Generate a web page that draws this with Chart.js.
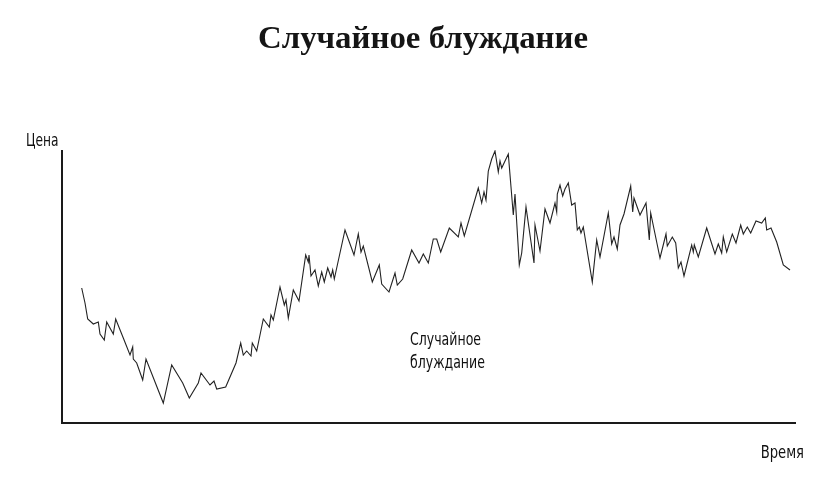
<!DOCTYPE html>
<html>
<head>
<meta charset="utf-8">
<script src="https://cdn.jsdelivr.net/npm/chart.js@4"></script>
<style>
  html, body { margin: 0; padding: 0; background: #fff; }
  #wrap { width: 837px; height: 484px; }
</style>
</head>
<body>
<div id="wrap"><canvas id="myChart" width="837" height="484"></canvas></div>
<script>
const titleText = 'Случайное блуждание';
const yLabel = 'Цена';
const xLabel = 'Время';
const noteLines = ['Случайное', 'блуждание'];

// time / price (arbitrary units)
const time = [
  19.7, 23, 25.7, 31.3, 36.3, 38, 42.3, 44.7, 51.3, 53.7, 61.3, 68, 70.7, 71.3, 74.7, 80.7, 84, 101.3, 109.7, 120.7,
  127.3, 136.3, 139, 148, 152, 154.7, 163.7, 174, 178.7, 181.3, 184.7, 189, 190.3, 194.7, 201.3, 207.3, 209, 211.3, 218, 222.3,
  224, 226.3, 231.3, 237, 243.7, 246.3, 247, 249, 253, 256.3, 259.7, 262.3, 265.7, 269, 270.7, 272.3, 283, 292, 296.3, 299,
  301.3, 310.3, 317.3, 319.7, 327, 333, 335.3, 340.7, 349.7, 357, 361.3, 366.3, 371.3, 374.7, 378.7, 387.3, 396.3, 399, 402.3, 416.3,
  419.7, 422, 424, 426.3, 429.7, 433, 436.3, 438, 439.7, 446.3, 451.3, 453, 457.3, 459.7, 464, 472, 473, 478, 483, 488,
  493, 494.7, 495.3, 498, 500.7, 503, 506.3, 509.7, 513, 515.3, 517.3, 519, 521.3, 530.3, 534.7, 538, 546.3, 549.7, 552, 555.3,
  558, 562, 568.7, 570.7, 572, 578, 584, 587.3, 588.7, 598, 604, 605.3, 610.3, 613.7, 616.3, 619, 622, 629.7, 631.3, 632.3,
  636.3, 644.7, 653, 656.3, 659.7, 661.3, 664.7, 670.3, 674, 678.7, 681.3, 685.3, 688.7, 694, 699.7, 703.3, 704.7, 709, 714.7, 721.3,
  728
];
const price = [
  134, 119, 103, 98, 100, 88, 82, 100, 88, 103, 84, 67, 75, 63, 59, 42, 63, 19, 57, 39,
  24, 39, 49, 37, 41, 33, 35, 59, 79, 67, 71, 66, 79, 71, 103, 95, 107, 102, 135, 117,
  122, 104, 132, 121, 167, 160, 167, 146, 152, 136, 150, 140, 154, 145, 152, 143, 192, 167, 188, 170,
  176, 140, 157, 138, 130, 149, 137, 143, 172, 159, 168, 159, 183, 183, 170, 194, 185, 199, 186, 234,
  219, 230, 222, 251, 263, 271, 250, 261, 254, 268, 207, 228, 157, 169, 215, 159, 197, 171, 213, 199,
  219, 210, 228, 237, 226, 233, 239, 217, 219, 192, 195, 189, 195, 140, 182, 165, 209, 178, 185, 173,
  197, 208, 236, 210, 224, 207, 219, 182, 209, 164, 188, 176, 185, 179, 154, 160, 146, 177, 170, 177,
  165, 194, 168, 178, 169, 185, 170, 188, 179, 197, 188, 195, 189, 201, 199, 204, 192, 194, 180, 157,
  152
];

const points = time.map((t, i) => ({ x: t, y: price[i] }));

const labelFont = '"Liberation Sans Narrow", "DejaVu Sans Condensed", sans-serif';

// squeeze text horizontally, the original uses a condensed face
function narrowText(c, text, x, y, sx, align) {
  c.save();
  c.translate(x, y);
  c.scale(sx, 1);
  c.textAlign = align;
  c.fillText(text, 0, 0);
  c.restore();
}

const decor = {
  id: 'decor',
  afterDraw(chart) {
    const c = chart.ctx;
    const a = chart.chartArea;
    c.save();
    // axes
    c.strokeStyle = '#1a1a1a';
    c.lineWidth = 2;
    c.beginPath();
    c.moveTo(a.left, a.top);
    c.lineTo(a.left, a.bottom + 1);
    c.lineTo(a.right, a.bottom + 1);
    c.stroke();

    // title
    c.fillStyle = '#151515';
    c.textBaseline = 'alphabetic';
    c.font = 'bold 31px "Liberation Serif", "DejaVu Serif", serif';
    const tw = c.measureText(titleText).width;
    narrowText(c, titleText, 423, 48, 330 / tw, 'center');

    // axis labels
    c.fillStyle = '#111';
    c.font = '17px ' + labelFont;
    narrowText(c, yLabel, 26, 146, 0.8, 'left');
    narrowText(c, xLabel, 804, 458, 0.86, 'right');

    // note
    narrowText(c, noteLines[0], 410, 345, 0.82, 'left');
    narrowText(c, noteLines[1], 410, 368, 0.82, 'left');
    c.restore();
  }
};

new Chart(document.getElementById('myChart'), {
  type: 'line',
  data: {
    datasets: [{
      data: points,
      borderColor: '#222',
      borderWidth: 1.1,
      pointRadius: 0,
      tension: 0,
      fill: false
    }]
  },
  options: {
    responsive: false,
    animation: false,
    layout: { padding: { left: 62, right: 41, top: 150, bottom: 62 } },
    scales: {
      x: { type: 'linear', display: false, min: 0, max: 734 },
      y: { display: false, min: 0, max: 272 }
    },
    plugins: {
      legend: { display: false },
      tooltip: { enabled: false }
    }
  },
  plugins: [decor]
});
</script>
</body>
</html>
